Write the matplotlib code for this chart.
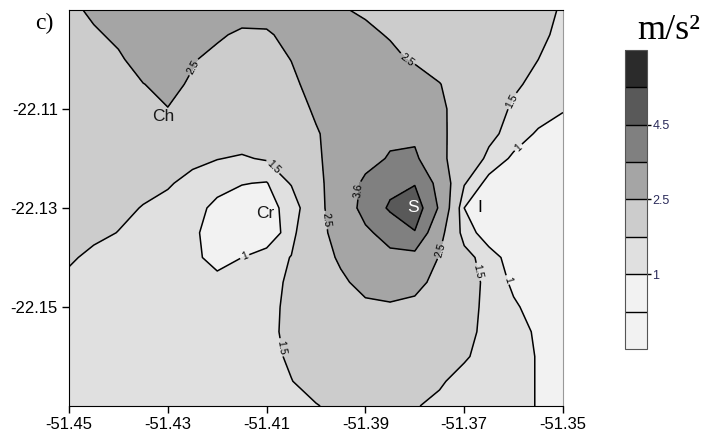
import numpy as np
import matplotlib.pyplot as plt

plt.rcParams['font.family'] = ['Liberation Sans', 'DejaVu Sans']

lon = np.linspace(-51.45, -51.35, 21)
lat = np.linspace(-22.09, -22.17, 17)
acel = np.array([
    [2.37, 2.6, 2.8, 2.95, 3.0, 3.0, 2.9, 2.77, 2.77, 2.9, 2.8, 2.54, 2.43, 2.31, 2.19, 2.07, 1.95, 1.83, 1.71, 1.59, 1.47],
    [2.3, 2.43, 2.6, 2.85, 2.95, 2.85, 2.58, 2.4, 2.42, 2.69, 2.9, 2.95, 2.61, 2.46, 2.31, 2.16, 2.01, 1.86, 1.71, 1.57, 1.42],
    [2.15, 2.3, 2.43, 2.7, 2.75, 2.54, 2.35, 2.25, 2.3, 2.51, 2.8, 3.0, 3.0, 2.63, 2.43, 2.25, 2.06, 1.87, 1.69, 1.5, 1.35],
    [2.1, 2.2, 2.3, 2.49, 2.62, 2.44, 2.3, 2.2, 2.25, 2.39, 2.7, 3.0, 3.1, 3.0, 2.8, 2.52, 2.21, 1.9, 1.59, 1.35, 1.15],
    [2.05, 2.1, 2.2, 2.35, 2.49, 2.4, 2.25, 2.15, 2.15, 2.25, 2.58, 2.95, 3.2, 3.2, 3.0, 2.62, 2.22, 1.81, 1.41, 1.25, 1.05],
    [2.0, 2.0, 2.0, 2.0, 2.05, 2.0, 1.85, 1.75, 1.8, 2.15, 2.45, 2.75, 3.2, 3.45, 3.4, 2.65, 2.16, 1.66, 1.27, 0.93, 0.7],
    [1.95, 1.9, 1.85, 1.8, 1.75, 1.62, 1.515, 1.45, 1.55, 2.0, 2.37, 2.9, 3.35, 3.665, 3.78, 2.71, 2.01, 1.36, 0.9, 0.75, 0.65],
    [1.85, 1.8, 1.72, 1.62, 1.55, 1.35, 1.2, 1.02, 0.97, 1.55, 2.21, 3.1, 3.75, 4.3, 4.45, 3.3, 1.55, 0.8, 0.7, 0.65, 0.6],
    [1.8, 1.7, 1.6, 1.48, 1.35, 1.21, 0.85, 0.75, 0.95, 1.05, 2.3, 2.85, 3.99, 4.6, 5.0, 3.49, 1.0, 0.75, 0.65, 0.6, 0.55],
    [1.7, 1.6, 1.49, 1.35, 1.25, 1.08, 0.8, 0.55, 0.6, 1.3, 2.3, 2.72, 3.41, 4.0, 4.45, 2.82, 1.24, 0.75, 0.65, 0.6, 0.55],
    [1.56, 1.4, 1.3, 1.22, 1.15, 1.12, 0.82, 1.0, 1.25, 1.52, 2.09, 2.62, 3.0, 3.35, 3.3, 2.45, 1.74, 1.19, 0.8, 0.65, 0.6],
    [1.4, 1.3, 1.25, 1.2, 1.18, 1.18, 1.15, 1.18, 1.3, 1.6, 1.98, 2.36, 2.75, 2.9, 2.75, 2.24, 1.79, 1.35, 0.9, 0.75, 0.65],
    [1.35, 1.28, 1.25, 1.22, 1.2, 1.2, 1.22, 1.28, 1.38, 1.6, 1.9, 2.15, 2.35, 2.4, 2.3, 2.1, 1.8, 1.3, 1.07, 0.8, 0.7],
    [1.3, 1.27, 1.25, 1.23, 1.22, 1.22, 1.25, 1.3, 1.4, 1.6, 1.8, 2.0, 2.1, 2.1, 2.05, 1.95, 1.7, 1.31, 1.15, 0.94, 0.8],
    [1.28, 1.26, 1.25, 1.24, 1.23, 1.23, 1.26, 1.3, 1.38, 1.56, 1.75, 1.9, 1.95, 1.95, 1.9, 1.8, 1.56, 1.3, 1.18, 0.97, 0.85],
    [1.27, 1.26, 1.25, 1.24, 1.23, 1.23, 1.25, 1.3, 1.38, 1.49, 1.65, 1.75, 1.8, 1.8, 1.72, 1.56, 1.33, 1.25, 1.18, 0.97, 0.85],
    [1.26, 1.25, 1.25, 1.24, 1.23, 1.23, 1.25, 1.28, 1.35, 1.4, 1.48, 1.6, 1.65, 1.63, 1.53, 1.39, 1.3, 1.25, 1.18, 0.97, 0.85],
])

niveis = [0, 0.5, 1, 1.5, 2.5, 3.6, 4.5, 5.5, 6.5]
linhas = [1, 1.5, 2.5, 3.6, 4.5]
cores = ['#f2f2f2', '#f2f2f2', '#e0e0e0', '#cccccc', '#a5a5a5', '#808080', '#595959', '#2b2b2b']

# posicoes dos rotulos das isolinhas
pos_rot = [(-51.4249, -22.1015), (-51.3816, -22.1001), (-51.3976, -22.1324),
           (-51.3749, -22.1385), (-51.4087, -22.1217), (-51.4067, -22.1581),
           (-51.3607, -22.1082), (-51.3672, -22.1429), (-51.4144, -22.1399),
           (-51.3591, -22.1177), (-51.3611, -22.1445), (-51.3917, -22.1264)]

estacoes = ['Ch', 'Cr', 'S', 'I']
est_lon = [-51.4310, -51.4103, -51.3804, -51.3668]
est_lat = [-22.1116, -22.1312, -22.1298, -22.1300]
est_cor = ['#1a1a1a', '#1a1a1a', 'white', 'black']

xt = [-51.45, -51.43, -51.41, -51.39, -51.37, -51.35]
yt = [-22.11, -22.13, -22.15]

fig = plt.figure(figsize=(7.08, 4.34), dpi=100)
ax = fig.add_axes([0.0975, 0.0645, 0.6977, 0.9125])

cf = ax.contourf(lon, lat, acel, levels=niveis, colors=cores)
cs = ax.contour(lon, lat, acel, levels=linhas, colors='black', linewidths=1.1)
ax.clabel(cs, fmt='%g', fontsize=7.5, inline=True, inline_spacing=2, manual=pos_rot)

for nome, x, y, c in zip(estacoes, est_lon, est_lat, est_cor):
    ax.text(x, y, nome, color=c, fontsize=12.5, ha='center', va='center')

ax.set_xlim(-51.45, -51.35)
ax.set_ylim(-22.17, -22.09)
ax.set_xticks(xt)
ax.set_xticklabels(['%.2f' % v for v in xt])
ax.set_yticks(yt)
ax.set_yticklabels(['%.2f' % v for v in yt])
ax.tick_params(labelsize=12, direction='out', length=5, width=1, pad=3)
ax.spines['right'].set_color('#999999')

fig.text(0.05, 0.945, 'c)', family='Liberation Serif', fontsize=17, ha='left', va='center')

cax = fig.add_axes([0.8828, 0.196, 0.031, 0.689])
cb = fig.colorbar(cf, cax=cax, drawedges=True)
cb.set_ticks([1, 2.5, 4.5])
cb.set_ticklabels(['1', '2.5', '4.5'])
cb.ax.tick_params(labelsize=9, labelcolor='#2b2b5b', length=3, width=1, pad=1)
cb.outline.set_edgecolor('#555555')
cb.dividers.set_linewidth(1)
fig.text(0.944, 0.93, 'm/s²', family='Liberation Serif', fontsize=26, ha='center', va='center')

plt.savefig('out.png', dpi=100)
